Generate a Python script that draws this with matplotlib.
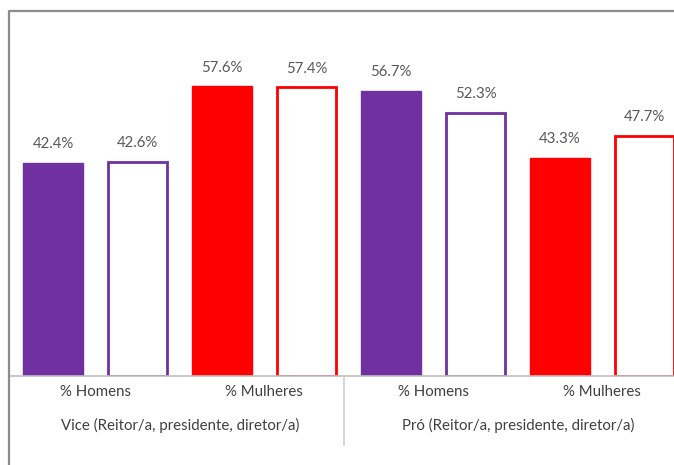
import matplotlib.pyplot as plt
from matplotlib.lines import Line2D

# proportions by gender for vice / pro positions
groups = ['Vice (Reitor/a, presidente, diretor/a)', 'Pró (Reitor/a, presidente, diretor/a)']
categories = ['% Homens', '% Mulheres', '% Homens', '% Mulheres']
values = [42.4, 42.6, 57.6, 57.4, 56.7, 52.3, 43.3, 47.7]
colors = ['#7030A0', '#7030A0', '#FF0000', '#FF0000',
          '#7030A0', '#7030A0', '#FF0000', '#FF0000']
filled = [True, False, True, False, True, False, True, False]

W, H = 674, 465
plt.rcParams['font.family'] = ['Lato', 'DejaVu Sans']
fig = plt.figure(figsize=(W / 100, H / 100), dpi=100)

# axes placed in pixel units (runs past the right edge of the figure)
ax_left, ax_right, ax_bottom, ax_top = 9, 700, 376, 30
ax = fig.add_axes([ax_left / W, (H - ax_bottom) / H,
                   (ax_right - ax_left) / W, (ax_bottom - ax_top) / H])

step = 84.5
x0 = 53
ax.set_xlim((ax_left - x0) / step, (ax_right - x0) / step)
px_per_unit = 5.03
ax.set_ylim(0, (ax_bottom - ax_top) / px_per_unit)

for i, (v, c, f) in enumerate(zip(values, colors, filled)):
    if f:
        ax.bar(i, v, width=0.72, color=c, edgecolor=c, linewidth=1)
    else:
        ax.bar(i, v, width=0.70, color='white', edgecolor=c, linewidth=2)
    ax.annotate(f'{v:.1f}%', (i, v), xytext=(0, 13.5), textcoords='offset points',
                ha='center', va='center', fontsize=10.8, color='#595959')

for s in ax.spines.values():
    s.set_visible(False)
ax.set_xticks([])
ax.set_yticks([])
ax.axhline(0, color='#bfbfbf', linewidth=1.2, clip_on=False)

# category and group labels below the axis
for k, cat in enumerate(categories):
    xc = 2 * k + 0.5
    ax.text(xc, -16 / px_per_unit, cat, ha='center', va='center',
            fontsize=10.8, color='#404040')
for g, name in enumerate(groups):
    xc = 4 * g + 1.5
    ax.text(xc, -49 / px_per_unit, name, ha='center', va='center',
            fontsize=10.8, color='#404040')

# divider between the two groups
fig.add_artist(Line2D([344 / W, 344 / W], [(H - 376) / H, (H - 445) / H],
                      color='#d0d0d0', linewidth=1.2))

# outer chart border (top and left edges)
fig.add_artist(Line2D([8.5 / W, 8.5 / W, 1.0], [0, (H - 11.5) / H, (H - 11.5) / H],
                      color='#8c8c8c', linewidth=1.6))

fig.savefig('out.png', dpi=100)
